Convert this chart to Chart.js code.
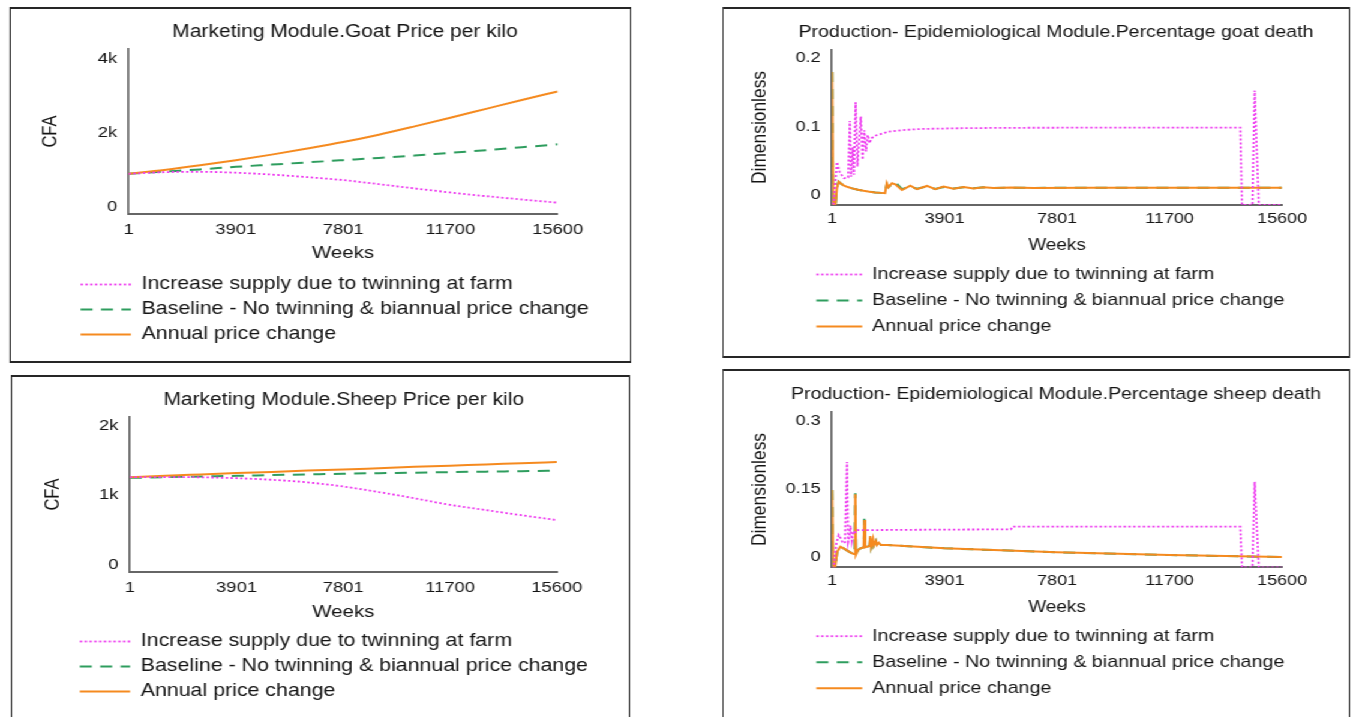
<!DOCTYPE html>
<html>
<head>
<meta charset="utf-8">
<title>Goat and sheep price / death scenarios</title>
<script src="https://cdn.jsdelivr.net/npm/chart.js"></script>
<style>
  html, body { margin: 0; padding: 0; background: #fff; overflow: hidden; }
  /* the original figure is stretched sideways, so draw narrow and widen it */
  #page { position: absolute; left: 0; top: 0; width: 1127px; height: 717px; overflow: hidden;
          transform: scaleX(1.2); transform-origin: 0 0; }
  .box { position: absolute; box-sizing: border-box; border-style: solid; border-color: #262626; border-width: 2px 1.7px; }
  canvas { position: absolute; }
</style>
</head>
<body>
<div id="page"></div>
<script>
// ---- data ----
const seriesNames = [
    "Increase supply due to twinning at farm",
    "Baseline - No twinning & biannual price change",
    "Annual price change"
];
const weekTicks = [1, 3901, 7801, 11700, 15600];
const weekTickLabels = ["1", "3901", "7801", "11700", "15600"];

// price charts (CFA)
const priceWeeks = [1, 1300, 2600, 3901, 5200, 6500, 7801, 9100, 10400, 11700, 13000, 14300, 15600];
const goatPriceTwinning = [890, 935, 945, 920, 870, 800, 720, 610, 495, 385, 285, 195, 110];
const goatPriceBaseline = [890, 950, 1010, 1080, 1140, 1200, 1260, 1320, 1385, 1460, 1530, 1610, 1690];
const goatPriceAnnual = [890, 995, 1120, 1260, 1410, 1575, 1750, 1950, 2175, 2410, 2650, 2890, 3120];
const goatPriceTicks = [0, 2000, 4000];
const goatPriceTickLabels = ["0", "2k", "4k"];

const sheepPriceTwinning = [1260, 1262, 1258, 1245, 1222, 1185, 1125, 1045, 955, 860, 785, 710, 640];
const sheepPriceBaseline = [1250, 1260, 1270, 1280, 1290, 1300, 1310, 1318, 1325, 1333, 1340, 1347, 1355];
const sheepPriceAnnual = [1260, 1280, 1300, 1320, 1335, 1355, 1370, 1390, 1410, 1425, 1445, 1460, 1480];
const sheepPriceTicks = [0, 1000, 2000];
const sheepPriceTickLabels = ["0", "1k", "2k"];

// percentage goat death (dimensionless)
const goatDeathWeeks = [1, 45, 120, 170, 230, 300, 400, 550, 700, 900, 1100, 1300, 1500, 1700, 1840, 1900, 1960, 2080, 2194,
    2426, 2714, 2946, 3293, 3580, 3868, 4215, 4561, 4908, 5255, 5601, 6200, 7000, 9000, 12000, 15600];
const goatDeathAnnual = [0.18, -0.014, -0.014, 0.010, 0.0199, 0.0175, 0.0145, 0.012, 0.010, 0.008, 0.0065, 0.0052, 0.0042, 0.0035, 0.003, 0.0175, 0.0115, 0.0175, 0.016,
    0.0077, 0.014, 0.0088, 0.0136, 0.009, 0.0126, 0.0095, 0.012, 0.010, 0.0118, 0.0105, 0.0113, 0.0108, 0.011, 0.011, 0.011];
const goatDeathBaseline = [0.18, -0.014, -0.014, 0.010, 0.0199, 0.0175, 0.0145, 0.012, 0.010, 0.008, 0.0065, 0.0052, 0.0042, 0.0035, 0.003, 0.016, 0.012, 0.0165, 0.019,
    0.009, 0.0125, 0.0095, 0.013, 0.0092, 0.012, 0.0098, 0.0118, 0.0102, 0.0116, 0.0106, 0.0112, 0.0108, 0.011, 0.011, 0.011];
const goatDeathTwinningWeeks = [1, 60, 120, 173, 260, 420, 560, 620, 660, 720, 760, 820, 880, 1000, 1060, 1120, 1180, 1240, 1300, 1360,
    1500, 1964, 2542, 3120, 4275, 6000, 9000, 12000, 14150, 14210, 14570, 14650, 14790, 15600];
const goatDeathTwinning = [-0.012, -0.012, 0.02, 0.0486, 0.034, 0.0248, 0.026, 0.1085, 0.027, 0.07, 0.03, 0.1358, 0.042, 0.1148, 0.052, 0.095, 0.064, 0.088, 0.076, 0.083,
    0.087, 0.093, 0.0955, 0.0968, 0.0978, 0.0985, 0.0987, 0.0987, 0.0987, -0.0142, -0.0142, 0.153, -0.0142, -0.0142];
const goatDeathTicks = [0, 0.1, 0.2];
const goatDeathTickLabels = ["0", "0.1", "0.2"];

// percentage sheep death (dimensionless)
const sheepDeathWeeks = [1, 45, 110, 180, 290, 450, 600, 750, 790, 809, 830, 900, 1000, 1100, 1121, 1150, 1300, 1329, 1360, 1421,
    1450, 1520, 1560, 1620, 1700, 1906, 3901, 7801, 11700, 15600];
const sheepDeathAnnual = [0.148, -0.022, -0.022, 0.012, 0.0233, 0.018, 0.012, 0.0073, 0.0073, 0.139, 0.006, 0.016, 0.020, 0.022, 0.082, 0.022, 0.025, 0.047, 0.024, 0.040,
    0.026, 0.036, 0.027, 0.032, 0.027, 0.027, 0.0198, 0.011, 0.005, 0.0005];
const sheepDeathBaseline = [0.148, -0.022, -0.022, 0.012, 0.0233, 0.018, 0.012, 0.0073, 0.0073, 0.141, 0.006, 0.016, 0.020, 0.022, 0.085, 0.022, 0.025, 0.048, 0.024, 0.040,
    0.026, 0.036, 0.027, 0.032, 0.027, 0.027, 0.0198, 0.011, 0.005, 0.0005];
const sheepDeathTwinningWeeks = [1, 60, 150, 231, 300, 381, 450, 520, 560, 600, 636, 690, 751, 809, 867, 1500, 3901, 6200, 6250, 14150,
    14210, 14570, 14650, 14790, 15600];
const sheepDeathTwinning = [-0.022, -0.022, 0.03, 0.049, 0.042, 0.0308, 0.033, 0.21, 0.034, 0.045, 0.07, 0.036, 0.058, 0.055, 0.060, 0.060, 0.061, 0.0615, 0.0675, 0.0675,
    -0.022, -0.022, 0.166, -0.022, -0.022];
const sheepDeathTicks = [0, 0.15, 0.3];
const sheepDeathTickLabels = ["0", "0.15", "0.3"];

// ---- look ----
const SX = 1.2;
const FONT = '"Liberation Sans", Arial, Helvetica, sans-serif';
const TEXT = "#141414";
const AXIS = "#666666";
const PINK = "#ee3cf0";
const GREEN = "#2e9d5e";
const ORANGE = "#f58a1f";

Chart.defaults.font.family = FONT;
Chart.defaults.color = TEXT;

const page = document.getElementById("page");

function pts(xs, ys) {
    return xs.map((x, i) => ({ x: x, y: ys[i] }));
}

function makeDatasets(twinning, baseline, annual, smooth) {
    const common = { pointRadius: 0, fill: false, cubicInterpolationMode: smooth ? "monotone" : "default", tension: 0 };
    return [
        Object.assign({ label: seriesNames[0], data: twinning, borderColor: PINK, backgroundColor: PINK, borderWidth: 1.8, borderDash: [2, 2], order: 0 }, common),
        Object.assign({ label: seriesNames[1], data: baseline, borderColor: GREEN, backgroundColor: GREEN, borderWidth: 2, borderDash: [10, 7], order: 2 }, common),
        Object.assign({ label: seriesNames[2], data: annual, borderColor: ORANGE, backgroundColor: ORANGE, borderWidth: 2, order: 1 }, common)
    ];
}

// legend samples should show the dataset's own line style, not the point style
function lineLabels(chart) {
    return Chart.defaults.plugins.legend.labels.generateLabels(chart).map((item) => {
        const ds = chart.data.datasets[item.datasetIndex];
        item.lineDash = ds.borderDash || [];
        item.lineWidth = ds.borderWidth;
        item.strokeStyle = ds.borderColor;
        return item;
    });
}

// g holds positions in screen pixels of the reference; x values get divided by SX
function makePanel(g, cfg) {
    const box = document.createElement("div");
    box.className = "box";
    box.style.left = (g.box[0] / SX) + "px";
    box.style.top = g.box[1] + "px";
    box.style.width = ((g.box[2] - g.box[0]) / SX) + "px";
    box.style.height = (g.box[3] - g.box[1]) + "px";
    page.appendChild(box);

    const CL = g.box[0] / SX + 2;
    const CT = g.box[1] + 2;
    // the title is centred on the full width, so the canvas reaches past the box on the right
    const CW = Math.ceil(2 * (g.titleX / SX - CL));
    const CH = Math.floor(Math.min(g.box[3], 717) - 2 - CT);
    const canvas = document.createElement("canvas");
    canvas.width = CW;
    canvas.height = CH;
    canvas.style.left = CL + "px";
    canvas.style.top = CT + "px";
    page.appendChild(canvas);

    const legPad = g.rowGap - g.legSize;
    const legTop = g.legY - legPad - g.legSize / 2;
    const legH = 3 * g.rowGap + 10;
    const legLeft = g.legX / SX - legPad - CL;
    const yAxisW = g.area[0] / SX - CL;
    const rightW = CL + CW - g.area[2] / SX;
    const tLH = g.titleSize * 1.2;
    const padTop = g.titleY - CT - tLH / 2;
    const titleBottom = g.area[1] - g.titleY - tLH / 2;
    const xAxisH = legTop - g.area[3];
    const padBottom = CT + CH - legTop - legH;
    const boxW = g.textX / SX - g.legX / SX - g.legSize / 2;
    const xTickPad = g.tickY - g.area[3] - g.tickSize * 0.6;
    const weeksPad = legTop - g.weeksSize * 0.6 - g.weeksY;
    const yTitlePad = g.yTitleX / SX - CL - g.yTitleSize * 0.6;

    const legendShift = {
        id: "legendShift",
        afterLayout(chart) {
            const lg = chart.legend;
            const d = legLeft - lg.left;
            lg.left += d;
            lg.right += d;
        }
    };

    return new Chart(canvas, {
        type: "line",
        data: { datasets: cfg.datasets },
        plugins: [legendShift],
        options: {
            responsive: false,
            animation: false,
            devicePixelRatio: 1,
            layout: { padding: { left: 0, right: 0, top: padTop, bottom: padBottom } },
            plugins: {
                title: {
                    display: true,
                    text: cfg.title,
                    color: TEXT,
                    font: { size: g.titleSize, weight: "normal", lineHeight: 1.2 },
                    padding: { top: 0, bottom: titleBottom }
                },
                legend: {
                    position: "bottom",
                    align: "start",
                    labels: {
                        usePointStyle: true,
                        pointStyle: "line",
                        pointStyleWidth: boxW,
                        padding: legPad,
                        color: TEXT,
                        font: { size: g.legSize, lineHeight: 1.2 },
                        generateLabels: lineLabels,
                        sort: (a, b) => a.datasetIndex - b.datasetIndex
                    }
                },
                tooltip: { enabled: false }
            },
            scales: {
                x: {
                    type: "linear",
                    min: 1,
                    max: 15600,
                    afterBuildTicks: (s) => { s.ticks = weekTicks.map((v) => ({ value: v })); },
                    afterFit: (s) => { s.height = xAxisH; },
                    grid: { display: false, drawTicks: false },
                    border: { display: true, color: AXIS, width: 2 },
                    ticks: {
                        autoSkip: false,
                        maxRotation: 0,
                        padding: xTickPad,
                        color: TEXT,
                        font: { size: g.tickSize, lineHeight: 1.2 },
                        callback: (v, i) => weekTickLabels[i]
                    },
                    title: {
                        display: true,
                        text: "Weeks",
                        color: TEXT,
                        font: { size: g.weeksSize, lineHeight: 1.2 },
                        padding: { top: 0, bottom: weeksPad }
                    }
                },
                y: {
                    min: cfg.yMin,
                    max: cfg.yMax,
                    afterBuildTicks: (s) => { s.ticks = cfg.yTicks.map((v) => ({ value: v })); },
                    afterFit: (s) => { s.width = yAxisW; },
                    grid: { display: false, drawTicks: false },
                    border: { display: true, color: AXIS, width: 1.7 },
                    ticks: {
                        padding: 9.5,
                        color: TEXT,
                        font: { size: g.tickSize, lineHeight: 1.2 },
                        callback: (v, i) => cfg.yTickLabels[i]
                    },
                    title: {
                        display: true,
                        text: cfg.yTitle,
                        color: TEXT,
                        font: { size: g.yTitleSize, lineHeight: 1.2 },
                        padding: { top: yTitlePad, bottom: 0 }
                    }
                },
                // empty spacer on the right so the title can be centred over the plot
                spacer: {
                    type: "linear",
                    position: "right",
                    afterFit: (s) => { s.width = rightW; },
                    ticks: { display: false },
                    grid: { display: false, drawTicks: false },
                    border: { display: false }
                }
            }
        }
    });
}

const leftFonts = { titleSize: 17.5, tickSize: 15.3, weeksSize: 17, legSize: 17.8, yTitleSize: 16.5, rowGap: 25, legX: 80, textX: 141 };
const rightFonts = { titleSize: 16.3, tickSize: 15, weeksSize: 15.8, legSize: 16.4, yTitleSize: 17.4, rowGap: 26, legX: 816, textX: 871.7 };

makePanel(Object.assign({ box: [9, 7, 631, 363], area: [128, 49, 557, 214], titleX: 344, titleY: 32.5, tickY: 230, weeksY: 253, legY: 284.5, yTitleX: 50 }, leftFonts), {
    title: "Marketing Module.Goat Price per kilo",
    yTitle: "CFA",
    yMin: -198, yMax: 4271,
    yTicks: goatPriceTicks, yTickLabels: goatPriceTickLabels,
    datasets: makeDatasets(pts(priceWeeks, goatPriceTwinning), pts(priceWeeks, goatPriceBaseline), pts(priceWeeks, goatPriceAnnual), true)
});

makePanel(Object.assign({ box: [11, 375, 630, 730], area: [130, 417, 557, 572], titleX: 344, titleY: 400, tickY: 588, weeksY: 612, legY: 641.5, yTitleX: 53 }, leftFonts), {
    title: "Marketing Module.Sheep Price per kilo",
    yTitle: "CFA",
    yMin: -111, yMax: 2130,
    yTicks: sheepPriceTicks, yTickLabels: sheepPriceTickLabels,
    datasets: makeDatasets(pts(priceWeeks, sheepPriceTwinning), pts(priceWeeks, sheepPriceBaseline), pts(priceWeeks, sheepPriceAnnual), true)
});

makePanel(Object.assign({ box: [722, 7, 1350, 358], area: [831.6, 50, 1281.7, 205], titleX: 1055.6, titleY: 33, tickY: 219.3, weeksY: 245.7, legY: 274.5, yTitleX: 760 }, rightFonts), {
    title: "Production- Epidemiological Module.Percentage goat death",
    yTitle: "Dimensionless",
    yMin: -0.0142, yMax: 0.2121,
    yTicks: goatDeathTicks, yTickLabels: goatDeathTickLabels,
    datasets: makeDatasets(pts(goatDeathTwinningWeeks, goatDeathTwinning), pts(goatDeathWeeks, goatDeathBaseline), pts(goatDeathWeeks, goatDeathAnnual), false)
});

makePanel(Object.assign({ box: [722, 369, 1350, 730], area: [831.6, 411.7, 1281.7, 567.3], titleX: 1055.2, titleY: 395, tickY: 581, weeksY: 607.3, legY: 636.2, yTitleX: 760 }, rightFonts), {
    title: "Production- Epidemiological Module.Percentage sheep death",
    yTitle: "Dimensionless",
    yMin: -0.022, yMax: 0.3205,
    yTicks: sheepDeathTicks, yTickLabels: sheepDeathTickLabels,
    datasets: makeDatasets(pts(sheepDeathTwinningWeeks, sheepDeathTwinning), pts(sheepDeathWeeks, sheepDeathBaseline), pts(sheepDeathWeeks, sheepDeathAnnual), false)
});
</script>
</body>
</html>
